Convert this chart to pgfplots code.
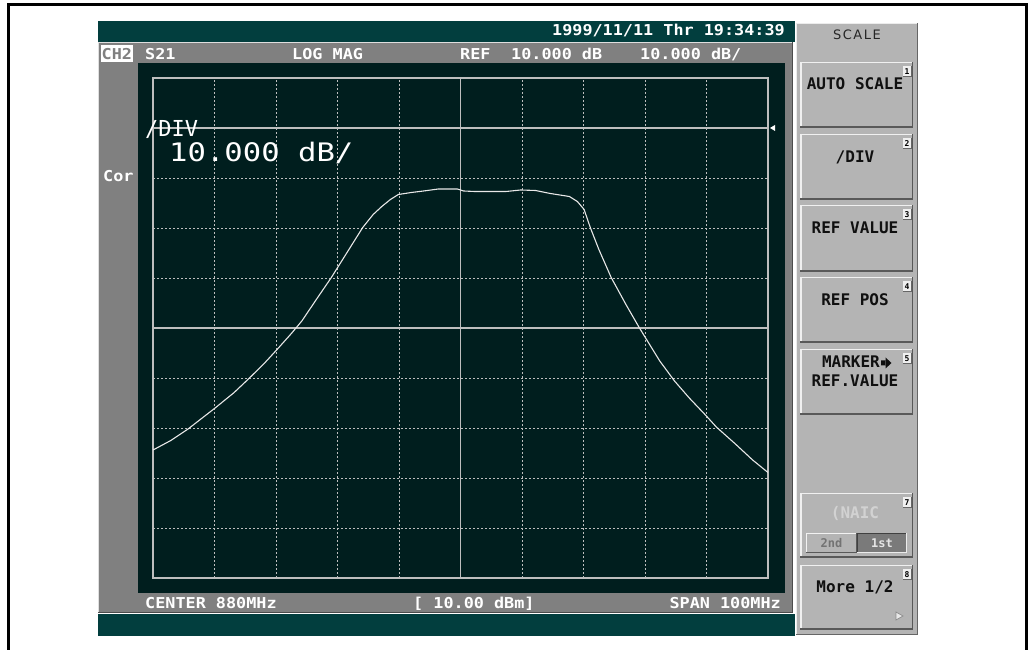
\documentclass[border=0pt]{standalone}
\usepackage{pgfplots}
\pgfplotsset{compat=1.18}
\usepackage{pgfplotstable}
\usepackage{fontspec}
\setmainfont{DejaVu Sans}
\newfontfamily\hdr{DejaVu Sans Mono}[FakeStretch=1.12]
\newfontfamily\btn{DejaVu Sans Mono}
\newfontfamily\bigf{DejaVu Sans Mono}[FakeStretch=1.2]
\newfontfamily\ttlf{DejaVu Sans}[LetterSpace=12]
\definecolor{tealbar}{RGB}{2,62,62}
\definecolor{panel}{RGB}{0,30,30}
\definecolor{bezel}{RGB}{128,128,128}
\definecolor{side}{RGB}{180,180,180}
\definecolor{gridc}{RGB}{190,190,190}
\definecolor{tracec}{RGB}{232,232,232}
\definecolor{btxt}{RGB}{16,16,16}

\pgfplotstableread{
f db
830.0 -54.4
832.9 -52.5
835.7 -50.2
838.0 -48.0
840.1 -46.0
843.2 -42.9
845.6 -40.1
848.0 -37.2
850.1 -34.4
852.5 -31.1
854.2 -28.6
856.5 -24.4
859.0 -19.9
861.5 -15.0
864.1 -9.9
865.8 -7.3
867.2 -5.7
868.6 -4.3
869.9 -3.3
872.0 -2.9
874.0 -2.6
876.4 -2.2
879.5 -2.2
880.5 -2.6
882.3 -2.7
885.0 -2.7
887.4 -2.7
889.8 -2.4
892.2 -2.5
894.6 -3.1
897.7 -3.7
899.0 -4.7
900.1 -6.3
901.1 -9.9
902.5 -14.3
904.5 -19.9
906.9 -25.3
909.1 -30.0
910.6 -33.0
912.4 -36.6
914.8 -40.6
917.2 -44.0
919.6 -47.1
921.6 -49.8
924.7 -53.2
927.5 -56.4
930.0 -58.9
}\tracedata

\tikzset{
  hd/.style={text=white, inner sep=0pt, font=\hdr\bfseries\fontsize{15}{15}\selectfont},
  bl/.style={text=btxt, inner sep=0pt, font=\btn\bfseries\fontsize{16}{16}\selectfont},
}
\newcommand{\menubtn}[3]{%
  \fill[side] (800,#1) rectangle (913,#2);
  \draw[white!88!gray, line width=1.5pt] (800.75,#2) -- (800.75,{#1+0.75}) -- (913,{#1+0.75});
  \draw[black!65, line width=1.5pt] (800,{#2-0.75}) -- (912.25,{#2-0.75}) -- (912.25,#1);
  \fill[white!80!side] (903,{#1+4}) rectangle (911,{#1+14});
  \draw[black!60, line width=0.8pt] (903,{#1+14}) -- (911,{#1+14}) -- (911,{#1+4});
  \node[text=black, inner sep=0pt, font=\btn\bfseries\fontsize{8}{8}\selectfont] at (907,{#1+9.3}) {#3};
}

\begin{document}
\begin{tikzpicture}
\useasboundingbox (0pt,0pt) rectangle (1029pt,650pt);
\begin{scope}[x=1pt, y=-1pt, yshift=650pt]
  % outer frame
  \draw[black, line width=3pt] (8.5,650) -- (8.5,4.5) -- (1026.5,4.5) -- (1026.5,650);
  % teal bars
  \fill[tealbar] (98,21) rectangle (795,42);
  \fill[tealbar] (98,614) rectangle (795,636);
  % bezel
  \fill[bezel] (98,42) rectangle (793,613);
  \draw[white!75!bezel, line width=1.2pt] (98.6,613) -- (98.6,42.6) -- (793,42.6);
  \draw[black!70, line width=1.4pt] (98,612.3) -- (792.3,612.3) -- (792.3,42);
  % dark display
  \fill[panel] (138,63) rectangle (785,593);
  % right menu panel
  \fill[side] (796,23) rectangle (918,635);
  \draw[white!85!gray, line width=1.2pt] (796.6,635) -- (796.6,23.6) -- (918,23.6);
  \draw[black!60, line width=1.4pt] (796,634.3) -- (917.3,634.3) -- (917.3,23);
\end{scope}

\begin{axis}[
  at={(153pt,72pt)}, anchor=south west,
  width=615pt, height=500pt, scale only axis,
  xmin=830, xmax=930, ymin=-80, ymax=20,
  xtick={830,840,...,930}, ytick={-80,-70,...,20},
  xticklabels={}, yticklabels={},
  major tick length=0pt,
  grid=major,
  major grid style={gridc, line width=0.9pt, dash pattern=on 1.8pt off 2.2pt},
  axis line style={gridc, line width=1.1pt},
  extra x ticks={880}, extra y ticks={-30,10},
  extra x tick labels={}, extra y tick labels={},
  extra tick style={major tick length=0pt, major grid style={solid, gridc, line width=1.1pt}},
]
\addplot[tracec, line width=1.1pt, no marks] table[x=f, y=db] {\tracedata};
\end{axis}

\begin{scope}[x=1pt, y=-1pt, yshift=650pt]
  % reference marker
  \fill[white] (770,128) -- (775,125) -- (775,131) -- cycle;
  % top date
  \node[hd, anchor=base east] at (785,35.5) {1999/11/11 Thr 19:34:39};
  % header row
  \fill[white] (101,45) rectangle (133,62);
  \node[hd, anchor=base west, text=bezel] at (101.5,60) {CH2};
  \node[hd, anchor=base west] at (145,60) {S21};
  \node[hd, anchor=base west] at (292,60) {LOG MAG};
  \node[hd, anchor=base west] at (460,60) {REF};
  \node[hd, anchor=base west] at (511,60) {10.000 dB};
  \node[hd, anchor=base west] at (640,60) {10.000 dB/};
  % footer
  \node[hd, anchor=base west] at (145,609) {CENTER 880MHz};
  \node[hd, anchor=base west] at (413,609) {[ 10.00 dBm]};
  \node[hd, anchor=base east] at (781,609) {SPAN 100MHz};
  % left label
  \node[hd, anchor=base west] at (103,182) {Cor};
  % big overlay text
  \node[text=white, inner sep=0pt, anchor=base west, font=\btn\fontsize{22}{22}\selectfont] at (145,137) {/DIV};
  \node[text=white, inner sep=0pt, anchor=base west, font=\bigf\fontsize{25.5}{25.5}\selectfont] at (169,162) {10.000 dB/};
  % menu
  \node[text=black!85, inner sep=0pt, anchor=base, font=\ttlf\fontsize{13}{13}\selectfont] at (857,39.5) {SCALE};
  \menubtn{62}{128}{1}
  \node[bl, anchor=base] at (855,90) {AUTO SCALE};
  \menubtn{134}{200}{2}
  \node[bl, anchor=base] at (855,163) {/DIV};
  \menubtn{205}{272}{3}
  \node[bl, anchor=base] at (855,234) {REF VALUE};
  \menubtn{277}{343}{4}
  \node[bl, anchor=base] at (855,306) {REF POS};
  \menubtn{349}{415}{5}
  \node[bl, anchor=base east] at (880,368) {MARKER};
  \fill[btxt] (881,360.5) rectangle (886,365.5) (885.5,357.5) -- (891.5,363) -- (885.5,368.5) -- cycle;
  \node[bl, anchor=base] at (855,387) {REF.VALUE};
  \menubtn{493}{558}{7}
  \node[bl, anchor=base, text=white!65!gray] at (855,519) {(NAIC};
  % sub buttons
  \fill[side] (806,533) rectangle (857,553);
  \draw[white!90!gray, line width=1pt] (806.5,553) -- (806.5,533.5) -- (857,533.5);
  \draw[black!65, line width=1pt] (806,552.5) -- (856.5,552.5) -- (856.5,533);
  \fill[black!52] (857,533) rectangle (907,553);
  \draw[black!75, line width=1pt] (857.5,553) -- (857.5,533.5) -- (907,533.5);
  \draw[white!85!gray, line width=1pt] (857,552.5) -- (906.5,552.5) -- (906.5,533);
  \node[inner sep=0pt, anchor=base, text=black!55, font=\btn\bfseries\fontsize{12}{12}\selectfont] at (831.5,548) {2nd};
  \node[inner sep=0pt, anchor=base, text=white!80!gray, font=\btn\bfseries\fontsize{12}{12}\selectfont] at (882,548) {1st};
  \menubtn{565}{630}{8}
  \node[bl, anchor=base] at (855,593) {More 1/2};
  \fill[white!70!side] (896,612) -- (903,616) -- (896,620) -- cycle;
  \draw[black!45, line width=0.7pt] (896,612) -- (903,616) -- (896,620) -- cycle;
\end{scope}
\end{tikzpicture}
\end{document}
